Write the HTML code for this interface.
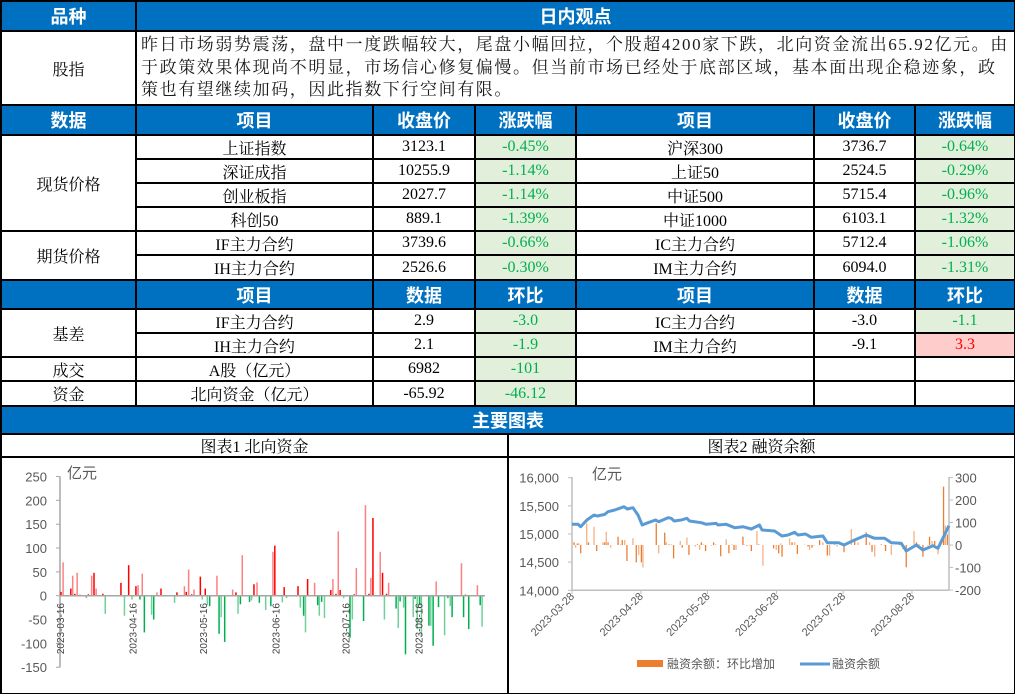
<!DOCTYPE html>
<html><head><meta charset="utf-8">
<style>
body{margin:0;width:1015px;height:694px;overflow:hidden;background:#000;position:relative;font-family:"Liberation Serif","Noto Serif CJK SC",serif;}
.c{position:absolute;background:#fff;color:#000;display:flex;align-items:center;justify-content:center;font-size:16px;white-space:nowrap;}
.h{background:#0070C0;color:#fff;font-family:"Liberation Sans","Noto Sans CJK SC",sans-serif;font-weight:bold;font-size:18px;}
.g{background:#E2EFDA;color:#00B050;}
.r{background:#FFCCCC;color:#FF0000;}
.p{display:block;text-align:left;padding:2px 4px;font-size:17px;line-height:22.5px;letter-spacing:1.6px;white-space:normal;color:#1a1a1a;}
svg{position:absolute;left:0;top:0;}
</style></head>
<body>
<svg id="ch" width="1015" height="694"></svg>
<script>
var C=[0,135,372,474,575,813,914,1015];
var cells=[
[0,135,0,30,'品种','h'],[135,1015,0,30,'日内观点','h'],
[0,135,30,104,'股指',''],[135,1015,30,104,'昨日市场弱势震荡，盘中一度跌幅较大，尾盘小幅回拉，个股超4200家下跌，北向资金流出65.92亿元。由于政策效果体现尚不明显，市场信心修复偏慢。但当前市场已经处于底部区域，基本面出现企稳迹象，政策也有望继续加码，因此指数下行空间有限。','p'],
[0,135,104,134,'数据','h'],[135,372,104,134,'项目','h'],[372,474,104,134,'收盘价','h'],[474,575,104,134,'涨跌幅','h'],[575,813,104,134,'项目','h'],[813,914,104,134,'收盘价','h'],[914,1015,104,134,'涨跌幅','h'],
[0,135,134,230,'现货价格',''],
[135,372,134,158,'上证指数',''],[372,474,134,158,'3123.1',''],[474,575,134,158,'-0.45%','g'],[575,813,134,158,'沪深300',''],[813,914,134,158,'3736.7',''],[914,1015,134,158,'-0.64%','g'],
[135,372,158,182,'深证成指',''],[372,474,158,182,'10255.9',''],[474,575,158,182,'-1.14%','g'],[575,813,158,182,'上证50',''],[813,914,158,182,'2524.5',''],[914,1015,158,182,'-0.29%','g'],
[135,372,182,206,'创业板指',''],[372,474,182,206,'2027.7',''],[474,575,182,206,'-1.14%','g'],[575,813,182,206,'中证500',''],[813,914,182,206,'5715.4',''],[914,1015,182,206,'-0.96%','g'],
[135,372,206,230,'科创50',''],[372,474,206,230,'889.1',''],[474,575,206,230,'-1.39%','g'],[575,813,206,230,'中证1000',''],[813,914,206,230,'6103.1',''],[914,1015,206,230,'-1.32%','g'],
[0,135,230,279,'期货价格',''],
[135,372,230,254,'IF主力合约',''],[372,474,230,254,'3739.6',''],[474,575,230,254,'-0.66%','g'],[575,813,230,254,'IC主力合约',''],[813,914,230,254,'5712.4',''],[914,1015,230,254,'-1.06%','g'],
[135,372,254,279,'IH主力合约',''],[372,474,254,279,'2526.6',''],[474,575,254,279,'-0.30%','g'],[575,813,254,279,'IM主力合约',''],[813,914,254,279,'6094.0',''],[914,1015,254,279,'-1.31%','g'],
[0,135,279,308,'','h'],[135,372,279,308,'项目','h'],[372,474,279,308,'数据','h'],[474,575,279,308,'环比','h'],[575,813,279,308,'项目','h'],[813,914,279,308,'数据','h'],[914,1015,279,308,'环比','h'],
[0,135,308,356,'基差',''],
[135,372,308,332,'IF主力合约',''],[372,474,308,332,'2.9',''],[474,575,308,332,'-3.0','g'],[575,813,308,332,'IC主力合约',''],[813,914,308,332,'-3.0',''],[914,1015,308,332,'-1.1','g'],
[135,372,332,356,'IH主力合约',''],[372,474,332,356,'2.1',''],[474,575,332,356,'-1.9','g'],[575,813,332,356,'IM主力合约',''],[813,914,332,356,'-9.1',''],[914,1015,332,356,'3.3','r'],
[0,135,356,380,'成交',''],[135,372,356,380,'A股（亿元）',''],[372,474,356,380,'6982',''],[474,575,356,380,'-101','g'],[575,813,356,380,'',''],[813,914,356,380,'',''],[914,1015,356,380,'',''],
[0,135,380,405,'资金',''],[135,372,380,405,'北向资金（亿元）',''],[372,474,380,405,'-65.92',''],[474,575,380,405,'-46.12','g'],[575,813,380,405,'',''],[813,914,380,405,'',''],[914,1015,380,405,'',''],
[0,1015,405,433,'主要图表','h'],
[0,507,433,456,'图表1  北向资金',''],[507,1015,433,456,'图表2  融资余额',''],
[0,507,456,694,'',''],[507,1015,456,694,'','']
];
var svgEl=document.getElementById('ch');
cells.forEach(function(c,i){
  var d=document.createElement('div');
  
  
  d.className='c '+c[5];
  var w=c[1]-c[0]-2-(c[1]===1015?1:0), h=c[3]-c[2]-2-(c[3]===694?1:0);
  d.style.left=(c[0]+2)+'px';d.style.top=(c[2]+2)+'px';d.style.width=w+'px';d.style.height=h+'px';
  if(c[5]==='p'){d.style.width=(w-8)+'px';d.style.height=(h-4)+'px';}
  d.textContent=c[4];
  document.body.insertBefore(d,svgEl);
});
</script>
<script>
// Chart 1: northbound capital (day offset from 2023-03-16, value 亿元)
var nbDays=[0.4,1.3,4.6,5.4,6.3,7.3,8.5,11.2,12.1,13.5,14.5,15.4,18.3,19.3,26.0,27.5,29.3,30.7,32.4,33.3,34.1,35.1,36.0,39.1,40.0,41.4,43.1,48.9,49.9,53.1,53.9,54.9,56.2,57.2,59.9,60.7,62.0,62.9,63.9,67.0,67.9,68.8,70.3,73.7,75.1,76.0,77.0,77.8,80.9,81.8,82.8,84.1,85.1,87.8,90.0,90.9,91.7,94.9,95.7,96.7,101.6,102.6,104.0,104.8,105.7,108.7,110.0,110.7,111.7,112.9,115.6,116.5,117.8,118.8,119.6,121.1,123.8,124.8,125.6,126.5,129.6,130.4,131.9,132.7,133.6,136.7,137.7,138.5,139.4,140.3,143.5,144.4,145.2,146.7,147.5,150.8,151.6,152.5,153.5,154.3,157.5,158.3,159.3,160.6,161.6,164.2,165.6,166.6,167.4,171.4,172.3,173.1,174.5,178.2,179.4,180.2];
var nbValues=[8,70,15,42,4,48,2,-5,3,42,48,15,4,-38,27,-42,64,-8,20,22,-8,46,-77,-40,-50,7,15,-15,7,20,8,55,3,13,40,-8,15,-20,-22,42,-80,-45,-97,13,7,-38,-18,85,-13,-10,24,28,-15,-30,-22,92,105,-14,18,-5,20,-25,-42,-77,35,27,-20,-42,-13,-47,12,35,4,135,12,-5,-88,-50,3,58,-53,190,4,37,163,92,48,-50,4,27,-27,-68,-12,-25,-123,-45,-7,-70,-20,-85,-63,-63,-105,30,-24,-83,-5,-22,-45,68,-45,3,-70,22,-20,-65];
var nbTicks=[250,200,150,100,50,0,-50,-100,-150];
var nbDateLabels=['2023-03-16','2023-04-16','2023-05-16','2023-06-16','2023-07-16','2023-08-16'];
var nbDateDays=[0,31,61,92,122,153];
// Chart 2: margin balance (day offset from 2023-03-28)
var mbBarDays=[0.9,1.6,2.4,3.1,3.9,6.6,7.4,9.9,11.1,13.9,14.7,15.4,16.2,17.4,20.7,21.7,22.6,23.7,24.7,27.4,28.9,30.0,31.2,31.9,37.9,39.0,41.7,42.4,43.6,44.7,45.7,48.7,49.6,51.7,52.6,55.5,56.4,57.4,58.2,59.1,60.1,62.7,63.7,64.6,66.9,69.4,70.6,72.0,72.9,73.8,76.9,77.7,78.7,79.9,80.7,83.2,84.0,85.9,90.7,91.9,93.0,93.9,94.5,97.9,99.0,100.2,101.4,104.7,106.2,106.9,108.0,108.9,111.4,112.9,114.9,115.9,118.2,119.2,122.4,125.7,127.2,128.7,132.4,133.9,135.0,136.2,139.2,140.4,141.1,143.7,147.4,148.9,150.4,153.9,155.0,156.4,157.9,160.2,160.9,162.0,163.2,164.7,167.2,168.0,168.9];
var mbBarValues=[12,-12,7,7,-37,96,12,81,-27,12,12,59,12,-12,37,3,22,22,-71,30,-77,-44,-77,-100,96,-37,55,12,3,3,-59,18,-12,33,-44,-7,3,-22,12,3,-27,-3,12,3,-50,25,-37,3,-22,-22,37,2,-3,-3,-27,62,3,-92,-15,-22,-37,7,-52,30,12,12,-40,2,-7,-22,-12,-3,22,12,-47,-47,2,-7,-32,71,22,12,56,12,-30,-52,3,-3,-27,-44,3,-18,-99,62,12,3,-52,-3,37,18,18,-41,259,86,47];
var mbLineDays=[0,2.7,3.9,6.7,9.9,11.4,14.7,16.2,19.2,21.4,23.4,24.9,27.4,29.7,31.6,34.2,37.6,39.0,43.2,44.7,45.9,49.2,51.7,52.9,58.2,60.4,64.9,65.7,69.4,73.2,76.9,80.7,84.4,85.5,91.2,94.5,97.2,100.2,101.7,105.1,107.7,112.9,114.9,120.0,122.4,127.2,132.4,136.2,140.7,143.7,148.2,150.4,155.0,157.9,162.4,164.7,169.6];
var mbLineValues=[15172,15172,15130,15249,15337,15320,15349,15396,15426,15456,15485,15444,15467,15337,15160,15201,15249,15219,15290,15278,15231,15249,15278,15231,15201,15172,15189,15160,15172,15112,15130,15089,15160,15071,15053,14964,14982,15030,14982,15000,14941,14964,14846,14846,14805,14894,14982,14923,14923,14846,14834,14698,14805,14716,14793,14746,15148];
var mbLeftTicks=[16000,15500,15000,14500,14000];
var mbRightTicks=[300,200,100,0,-100,-200];
var mbDateLabels=['2023-03-28','2023-04-28','2023-05-28','2023-06-28','2023-07-28','2023-08-28'];
var mbDateDays=[0,31,61,92,122,153];

var NS='http://www.w3.org/2000/svg', svg=document.getElementById('ch');
function mk(tag,attrs,text){var e=document.createElementNS(NS,tag);for(var k in attrs)e.setAttribute(k,attrs[k]);if(text!=null)e.textContent=text;svg.appendChild(e);return e;}
var LF='"Liberation Sans","Noto Sans CJK SC",sans-serif';
// chart1 axes
function x1(d){return 60+d*2.342;}
function y1(v){return 595.7-v*0.4767;}
var e;
e=mk('line',{x1:60,y1:y1(250),x2:60,y2:y1(-150),stroke:'#A6A6A6','stroke-width':1.5});

nbTicks.forEach(function(t){
  e=mk('line',{x1:56,y1:y1(t),x2:60,y2:y1(t),stroke:'#A6A6A6'});
  
  e=mk('text',{x:47,y:y1(t)+5,'text-anchor':'end','font-size':13,fill:'#595959','font-family':LF},String(t));
  
});
e=mk('text',{x:67,y:478,'font-size':15,fill:'#595959','font-family':LF},'亿元');

nbDays.forEach(function(d,i){
  var v=nbValues[i],y=y1(Math.max(v,0)),h=Math.abs(y1(v)-y1(0));
  var col=v>=0?(i%2?'#FF8080':'#FF0000'):(i%2?'#70D09A':'#00B050');
  e=mk('rect',{x:x1(d)-0.7,y:y,width:1.5,height:Math.max(h,0.5),fill:col});
  
});
e=mk('line',{x1:60,y1:y1(0),x2:485,y2:y1(0),stroke:'#A6A6A6','stroke-width':1.5});

nbDateLabels.forEach(function(l,i){
  var x=x1(nbDateDays[i])+4;
  e=mk('text',{x:x,y:603,'text-anchor':'end','font-size':10,fill:'#404040','font-family':LF,transform:'rotate(-90 '+x+' 603)'},l);
  
});
// chart2
function x2(d){return 572+d*2.222;}
function yl(v){return 590.3-(v-14000)*0.0563;}
function yr(v){return 545-v*0.2253;}
e=mk('line',{x1:572,y1:477,x2:572,y2:590.3,stroke:'#BFBFBF','stroke-width':1.5});

e=mk('line',{x1:949,y1:477,x2:949,y2:590.3,stroke:'#BFBFBF','stroke-width':1.5});

e=mk('line',{x1:572,y1:590.3,x2:949,y2:590.3,stroke:'#BFBFBF','stroke-width':1.5});

mbLeftTicks.forEach(function(t){
  e=mk('text',{x:559,y:yl(t)+5,'text-anchor':'end','font-size':13,fill:'#595959','font-family':LF},t.toLocaleString('en-US'));
  
  e=mk('line',{x1:568,y1:yl(t),x2:572,y2:yl(t),stroke:'#BFBFBF'});
  
});
mbRightTicks.forEach(function(t){
  e=mk('text',{x:955,y:yr(t)+5,'font-size':13,fill:'#595959','font-family':LF},String(t));
  
  e=mk('line',{x1:949,y1:yr(t),x2:953,y2:yr(t),stroke:'#BFBFBF'});
  
});
e=mk('text',{x:592,y:479,'font-size':15,fill:'#595959','font-family':LF},'亿元');

mbBarDays.forEach(function(d,i){
  var v=mbBarValues[i],y=yr(Math.max(v,0)),h=Math.abs(yr(v)-yr(0));
  e=mk('rect',{x:x2(d)-0.6,y:y,width:1.3,height:Math.max(h,0.5),fill:i%2?'#F4B183':'#ED7D31'});
  
});
var pts=mbLineDays.map(function(d,i){return x2(d).toFixed(1)+','+yl(mbLineValues[i]).toFixed(1);}).join(' ');
e=mk('polyline',{points:pts,fill:'none',stroke:'#5B9BD5','stroke-width':3,'stroke-linejoin':'round'});

mbDateLabels.forEach(function(l,i){
  var x=x2(mbDateDays[i]),y=597;
  e=mk('line',{x1:x,y1:590.3,x2:x,y2:594,stroke:'#BFBFBF'});
  
  e=mk('text',{x:x+3,y:y,'text-anchor':'end','font-size':11,fill:'#595959','font-family':LF,transform:'rotate(-45 '+(x+3)+' '+y+')'},l);
  
});
e=mk('rect',{x:637,y:660,width:26,height:7,fill:'#ED7D31'});

e=mk('text',{x:667,y:668,'font-size':12,fill:'#595959','font-family':LF},'融资余额：环比增加');

e=mk('line',{x1:800,y1:664,x2:830,y2:664,stroke:'#5B9BD5','stroke-width':3});

e=mk('text',{x:832,y:668,'font-size':12,fill:'#595959','font-family':LF},'融资余额');

</script>
</body></html>
